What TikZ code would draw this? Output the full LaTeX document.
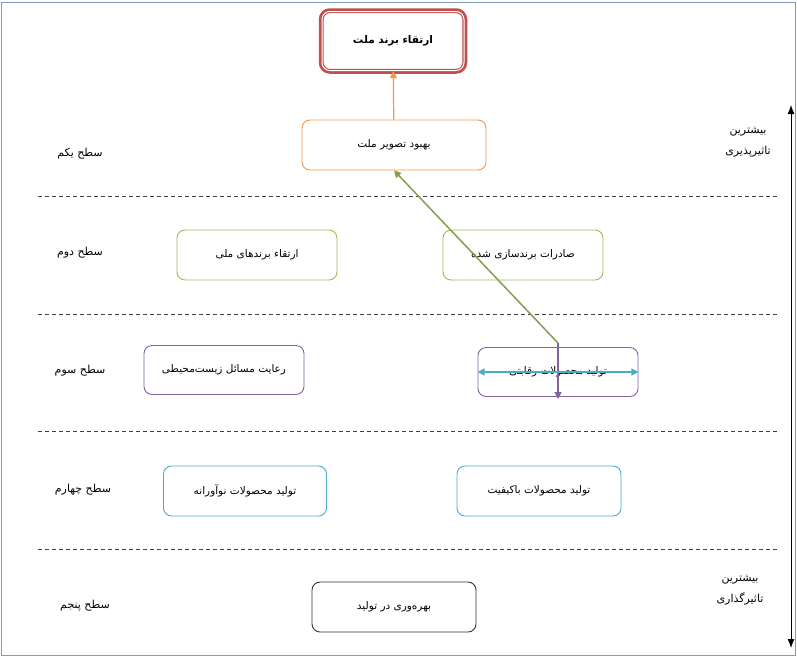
\documentclass[tikz,border=0pt]{standalone}
\usepackage{fontspec}
\newfontfamily\farsi[Script=Arabic]{DejaVu Sans}
\TeXXeTstate=1
\usetikzlibrary{arrows.meta}
\newcommand{\fa}[1]{{\farsi\beginR #1\endR}}
\definecolor{lvlred}{HTML}{C0504D}
\definecolor{lvlorange}{HTML}{F79646}
\definecolor{lvlgreen}{HTML}{9BBB59}
\definecolor{lvlpurple}{HTML}{8064A2}
\definecolor{lvlcyan}{HTML}{4BACC6}
\definecolor{framec}{HTML}{7F9DC4}

\begin{document}
\begin{tikzpicture}[x=1pt,y=-1pt,
    box/.style={draw, rounded corners=8pt, minimum width=160pt, minimum height=50pt,
      fill=white, line width=0.9pt, font=\fontsize{10.5}{12}\selectfont},
    lbl/.style={font=\fontsize{11}{13}\selectfont, align=center},
    sep/.style={draw=black!75, dash pattern=on 4pt off 3pt, line width=0.7pt},
    tip/.style={-{Triangle[length=7pt,width=7pt]}}]

  \useasboundingbox (0,0) rectangle (797,657);
  \draw[framec, line width=1pt] (1.5,2.5) rectangle (795.5,655.5);

  % level separators
  \foreach \y in {196,314,431,549}
    \draw[sep] (38,\y) -- (777,\y);

  \begin{scope}[every node/.style={box}]
    \node[draw=lvlred, minimum width=142pt, minimum height=59pt, line width=1.1pt,
      double=white, double distance=1pt, preaction={draw=lvlred, line width=6.5pt},
      font=\fontsize{10.5}{12}\selectfont\bfseries] (1) at (393,41) {\fa{ارتقاء برند ملت}};
    \node[draw=lvlorange, minimum width=184pt] (2) at (394,145) {\fa{بهبود تصویر ملت}};
    \node[draw=lvlgreen] (3) at (257,255) {\fa{ارتقاء برندهای ملی}};
    \node[draw=lvlgreen] (4) at (523,255) {\fa{صادرات برندسازی شده}};
    \node[draw=lvlpurple, minimum height=49pt] (5) at (224,370) {\fa{رعایت مسائل زیست^^^^200cمحیطی}};
    \node[draw=lvlpurple, minimum height=49pt] (6) at (558,372) {\fa{تولید محصولات رقابتی}};
    \node[draw=lvlcyan, minimum width=163pt] (7) at (245,491) {\fa{تولید محصولات نوآورانه}};
    \node[draw=lvlcyan, minimum width=164pt] (8) at (539,491) {\fa{تولید محصولات باکیفیت}};
    \node[draw=black!80, minimum width=164pt] (9) at (394,607) {\fa{بهره^^^^200cوری در تولید}};
  \end{scope}

  \begin{scope}[every node/.style={lbl}]
    \node (10) at (80,154) {\fa{سطح یکم}};
    \node (11) at (80,253) {\fa{سطح دوم}};
    \node (12) at (80,371) {\fa{سطح سوم}};
    \node (13) at (83,490) {\fa{سطح چهارم}};
    \node (14) at (85,606) {\fa{سطح پنجم}};
    \node (15) at (748,142) {\fa{بیشترین}\\[8pt]\fa{تاثیرپذیری}};
    \node (16) at (740,590) {\fa{بیشترین}\\[8pt]\fa{تاثیرگذاری}};
  \end{scope}

  \coordinate (g) at (558,343);
  \coordinate (p) at (558,399);
  \coordinate (top) at (791,105);
  \coordinate (bot) at (791,648);

  \path (2) edge[draw=lvlorange, line width=1.2pt, tip] (1);
  \path (g) edge[draw=lvlgreen!85!black, line width=1.5pt, tip] (2.south);
  \path (g) edge[draw=lvlpurple, line width=1.3pt, tip] (p);
  \path (6.west) edge[draw=lvlcyan, line width=1.3pt,
    {Triangle[length=7pt,width=7pt]}-{Triangle[length=7pt,width=7pt]}] (6.east);
  \path (bot) edge[draw=black, line width=0.9pt,
    {Latex[length=9pt,width=7pt]}-{Latex[length=9pt,width=7pt]}] (top);

\end{tikzpicture}
\end{document}
